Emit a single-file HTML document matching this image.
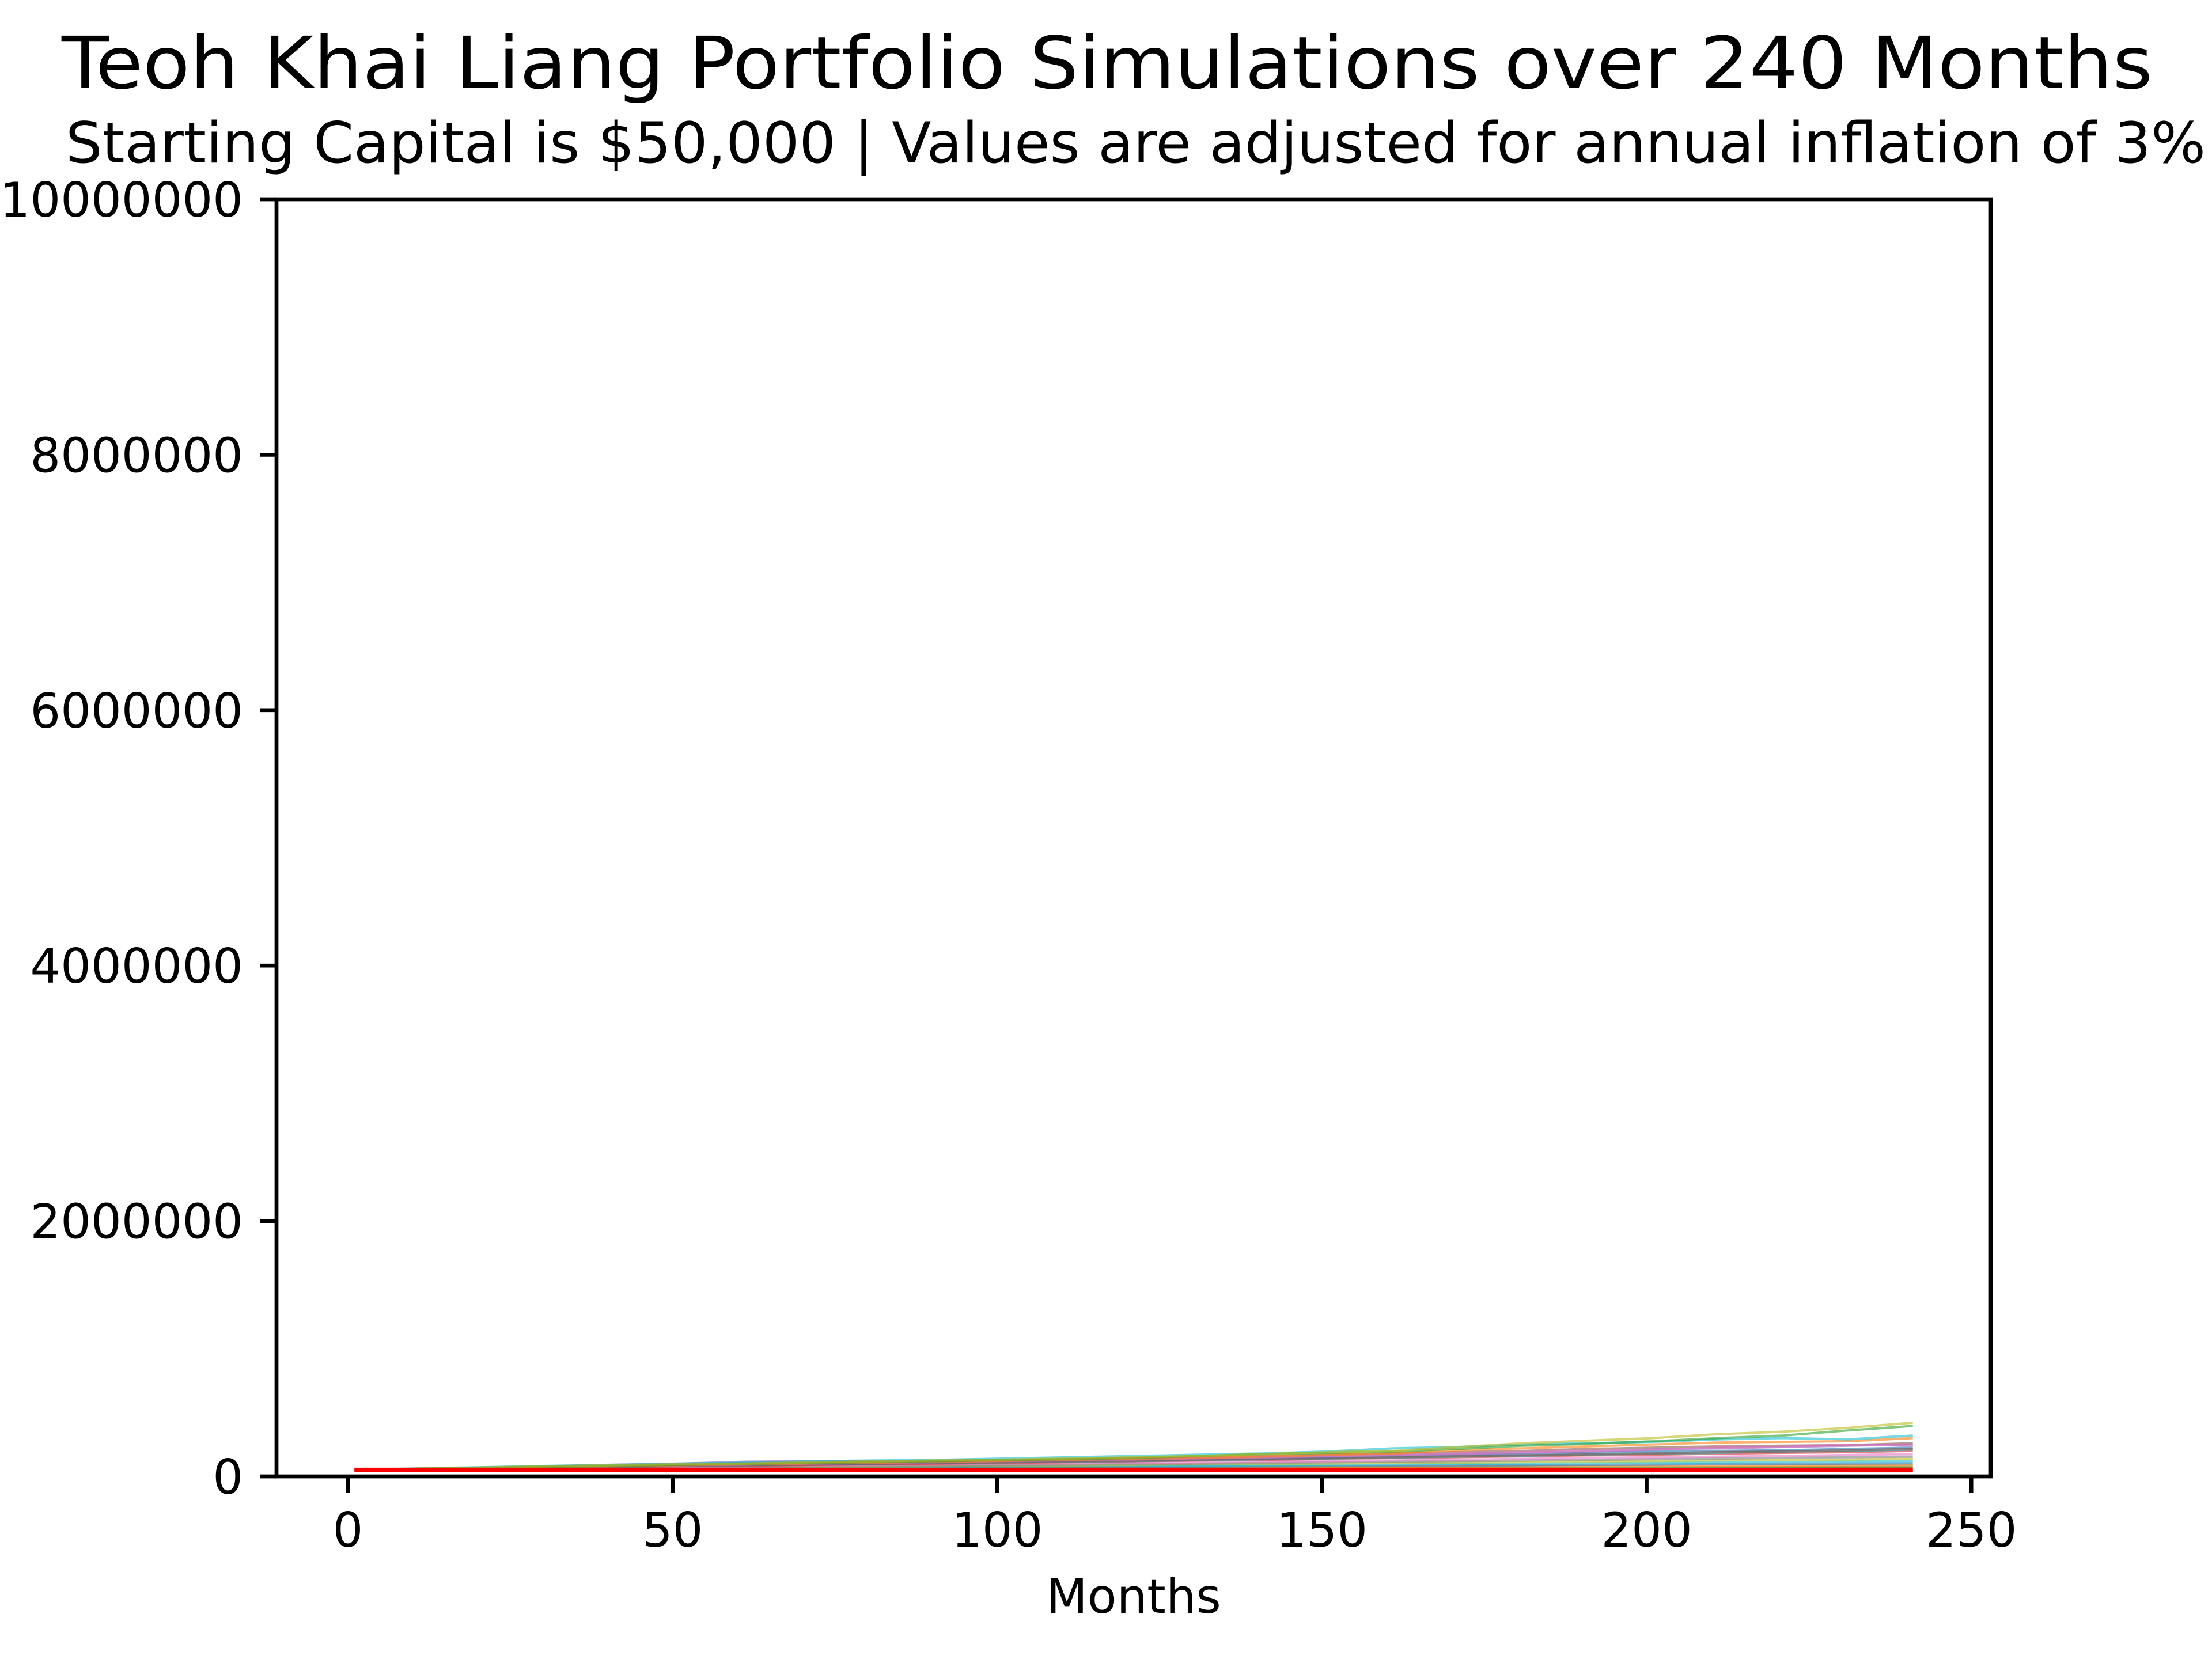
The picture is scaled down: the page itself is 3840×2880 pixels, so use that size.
<!DOCTYPE html>
<html><head><meta charset="utf-8">
<style>
html,body{margin:0;padding:0;background:#fff;}
svg{display:block;font-family:"DejaVu Sans","Liberation Sans",sans-serif;}
</style></head>
<body>
<svg id="chart" width="3840" height="2880" viewBox="0 0 3840 2880" xmlns="http://www.w3.org/2000/svg">
<rect width="3840" height="2880" fill="#fff"/>
<text x="107" y="153" font-size="125" textLength="3630" lengthAdjust="spacingAndGlyphs">Teoh Khai Liang Portfolio Simulations over 240 Months</text>
<text x="114" y="282" font-size="98" textLength="3715" lengthAdjust="spacingAndGlyphs">Starting Capital is $50,000 | Values are adjusted for annual inflation of 3%</text>
<g id="plot"></g>
<g id="axes"></g>
<text x="1968" y="2800" font-size="83" text-anchor="middle">Months</text>
</svg>
<script>
const months = [1,11,21,31,41,51,61,71,81,91,101,111,121,131,141,151,161,171,181,191,201,211,221,231,241];
const s1 = [50,62,70,80,88,95,100,110,118,125,132,140,150,160,175,190,200,230,260,280,300,330,350,380,420];
const s2 = [50,60,68,75,82,90,98,105,112,120,128,135,145,160,175,185,195,215,240,255,275,300,320,360,395];
const s3 = [50,63,72,82,90,100,108,118,125,130,140,150,160,170,180,195,220,230,250,260,270,290,300,290,320];
const s4 = [50,58,66,74,80,88,95,102,108,115,122,130,138,145,155,168,180,205,220,235,250,265,270,275,300];
const s5 = [50,61,70,80,92,100,115,120,118,122,128,132,138,140,148,155,165,175,185,195,210,220,230,240,250];
const s6 = [50,59,67,75,85,95,105,112,120,124,130,135,140,150,160,170,180,190,200,215,225,235,240,245,260];
const s7 = [50,57,64,70,77,84,90,96,100,108,115,120,128,135,140,150,160,170,175,185,195,200,205,215,225];
const s8 = [50,56,62,68,74,80,85,90,96,100,106,112,118,125,130,138,145,150,158,165,170,178,185,190,200];
const s9 = [50,55,60,65,70,74,78,84,88,92,96,100,106,110,115,120,125,130,138,145,150,155,160,168,175];
const s10 = [50,54,58,62,66,70,74,78,80,84,88,92,96,100,105,110,115,120,124,130,135,140,145,150,155];
const s11 = [50,55,59,63,67,70,72,75,78,80,84,86,90,94,98,100,105,108,112,116,120,125,128,132,138];
const s12 = [50,54,57,60,63,66,68,70,72,75,78,80,82,85,88,90,92,96,100,102,106,110,112,116,120];
const s13 = [50,53,56,58,60,62,64,66,68,70,71,73,75,77,79,81,83,85,87,90,92,95,97,100,102];
const s14 = [50,52,54,56,58,59,60,62,63,65,66,68,69,70,72,73,75,76,78,80,82,83,85,86,88];
const s15 = [50,52,53,54,55,56,57,58,59,60,61,62,62,63,64,65,66,67,68,69,70,71,72,73,75];
const s16 = [50,51,52,52,53,53,54,55,55,56,56,57,57,58,58,59,59,60,60,61,61,62,62,63,63];
const s17 = [50,49,48,48,47,47,46,46,45,45,45,44,44,44,43,43,43,42,42,42,41,41,41,40,40];
const s18 = [50,58,64,72,78,82,88,92,98,104,110,118,122,130,136,142,150,158,165,172,180,190,195,205,215];
const s19 = [50,60,66,73,80,86,92,100,106,112,120,126,132,142,150,160,168,178,190,200,210,225,232,248,240];
const s20 = [50,57,63,70,76,82,88,94,100,106,110,116,120,128,134,140,148,155,162,170,178,185,195,200,210];
const series = [s17,s16,s15,s14,s13,s12,s11,s10,s9,s8,s20,s7,s18,s6,s5,s19,s4,s3,s2,s1];
const seriesColors = ["#9467bd","#d62728","#2ca02c","#ff7f0e","#1f77b4","#17becf","#bcbd22","#7f7f7f","#e377c2","#d62728","#17becf","#1f77b4","#8c564b","#8c564b","#9467bd","#e377c2","#ff7f0e","#17becf","#2ca02c","#bcbd22"];
const startCapital = 50000;
const xTicks = [0,50,100,150,200,250];
const yTicks = [0,2000000,4000000,6000000,8000000,10000000];

const L=480,R=3456,T=346,B=2563;
const xMin=-11,xMax=253,yMin=0,yMax=10000000;
const xs=v=>L+(v-xMin)/(xMax-xMin)*(R-L);
const ys=v=>B-(v-yMin)/(yMax-yMin)*(B-T);
const NS="http://www.w3.org/2000/svg";
const plot=document.getElementById('plot');
const axes=document.getElementById('axes');
function mk(tag,attrs,parent){const e=document.createElementNS(NS,tag);for(const k in attrs)e.setAttribute(k,attrs[k]);parent.appendChild(e);return e;}

series.forEach((s,i)=>{
  const d=s.map((v,j)=>(j?'L':'M')+xs(months[j]).toFixed(1)+','+ys(v*1000).toFixed(1)).join('');
  const p=mk('path',{d:d,fill:'none',stroke:seriesColors[i],'stroke-width':4,'stroke-opacity':0.6},plot);
  
  
});
const red=mk('line',{x1:xs(months[0]),x2:xs(months[months.length-1]),y1:ys(startCapital),y2:ys(startCapital),stroke:'#ff0000','stroke-width':8},plot);



const frame=mk('rect',{x:L,y:T,width:R-L,height:B-T,fill:'none',stroke:'#000','stroke-width':6.7},axes);



xTicks.forEach(t=>{
  const x=xs(t);
  const tk=mk('line',{x1:x,x2:x,y1:B,y2:B+29,stroke:'#000','stroke-width':6.7},axes);
  
  
  const lb=mk('text',{x:x,y:B+122,'font-size':83,'text-anchor':'middle'},axes);
  lb.textContent=t;
  
  
});
yTicks.forEach(t=>{
  const y=ys(t);
  const tk=mk('line',{x1:L-29,x2:L,y1:y,y2:y,stroke:'#000','stroke-width':6.7},axes);
  
  
  const lb=mk('text',{x:L-58,y:y+30,'font-size':83,'text-anchor':'end'},axes);
  lb.textContent=t;
  
  
});
</script>
</body></html>
